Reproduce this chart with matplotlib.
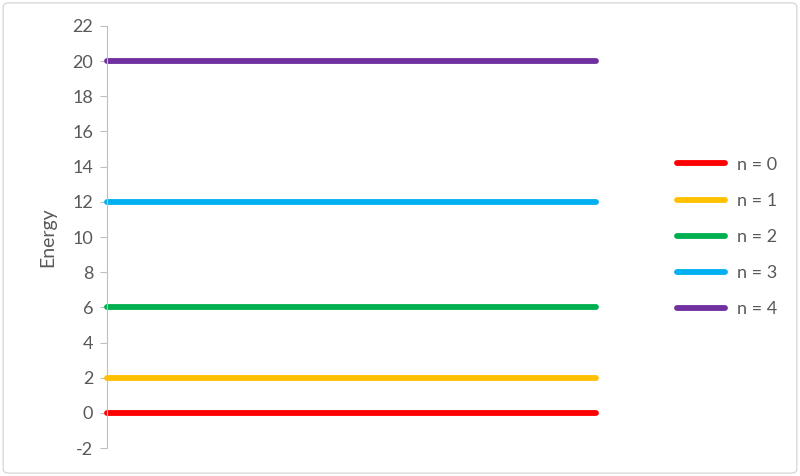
import matplotlib.pyplot as plt
from matplotlib.patches import FancyBboxPatch

plt.rcParams['font.family'] = ['Lato', 'DejaVu Sans']
plt.rcParams['axes.unicode_minus'] = False

# energy levels for n = 0..4
labels = ['n = 0', 'n = 1', 'n = 2', 'n = 3', 'n = 4']
energy = [0, 2, 6, 12, 20]
colors = ['#ff0000', '#ffc000', '#00b050', '#00b0f0', '#7030a0']
x_span = [0, 1]

text_color = '#595959'

fig = plt.figure(figsize=(8, 4.76), dpi=100)
ax = fig.add_axes([0.134, 0.0588, 0.611, 0.8866])

for lab, e, c in zip(labels, energy, colors):
    ax.plot(x_span, [e, e], color=c, linewidth=4.2, solid_capstyle='round',
            label=lab, clip_on=False)

ax.set_xlim(0, 1)
ax.set_ylim(-2, 22)
ax.set_yticks(range(-2, 23, 2))
ax.set_xticks([])
ax.set_ylabel('Energy', fontsize=14, color=text_color, labelpad=12)

for s in ['top', 'right', 'bottom']:
    ax.spines[s].set_visible(False)
ax.spines['left'].set_color('#bfbfbf')
ax.spines['left'].set_linewidth(0.8)
ax.tick_params(axis='y', colors='#bfbfbf', labelcolor=text_color,
               labelsize=13, length=5, width=0.8, pad=5)

leg = fig.legend(loc='center left', bbox_to_anchor=(0.826, 0.502), frameon=False,
                 fontsize=13, handlelength=2.66, labelspacing=1.12,
                 handletextpad=0.66)
for t in leg.get_texts():
    t.set_color(text_color)

# light outer border like the spreadsheet chart frame
border = FancyBboxPatch((0.004, 0.006), 0.992, 0.988,
                        boxstyle='round,pad=0,rounding_size=0.008',
                        transform=fig.transFigure, fill=False,
                        edgecolor='#d9d9d9', linewidth=1.0)
fig.patches.append(border)

fig.savefig('out.png', dpi=100, facecolor='white')
